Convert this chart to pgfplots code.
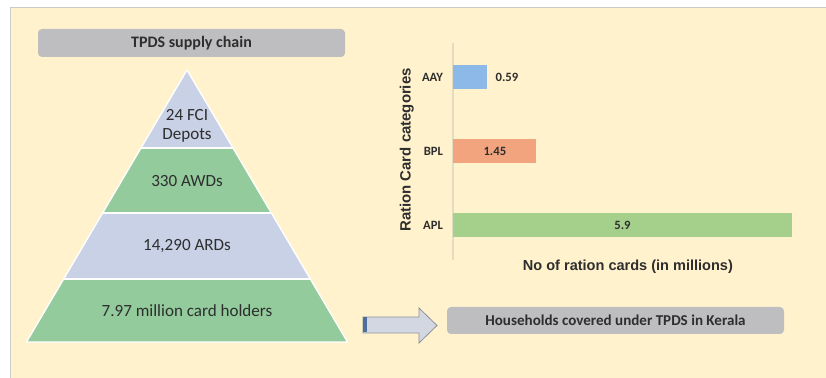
\documentclass[border=0pt]{standalone}
\usepackage{pgfplots}
\pgfplotsset{compat=1.18}
\usepackage{fontspec}
\setmainfont{Carlito}
\newfontfamily\arialf{Liberation Sans}
\definecolor{cream}{HTML}{FFF2CC}
\definecolor{framegray}{HTML}{C9CCC4}
\definecolor{boxgray}{HTML}{BEBEC0}
\definecolor{pyrblue}{HTML}{C9D1E6}
\definecolor{pyrgreen}{HTML}{93CB9C}
\definecolor{aay}{HTML}{8DB9E8}
\definecolor{bpl}{HTML}{F2A47E}
\definecolor{apl}{HTML}{A5D08C}
\definecolor{axisgray}{HTML}{E3DCC0}
\definecolor{darktext}{HTML}{2E2E2E}
\definecolor{arrowfill}{HTML}{D3D7E2}
\definecolor{arrowedge}{HTML}{8C919C}
\definecolor{arrowdark}{HTML}{4F6E9E}
\begin{document}
\begin{tikzpicture}
\begin{scope}[x=0.75pt,y=-0.75pt,shift={(0pt,283.5pt)}]
\fill[white] (0,0) rectangle (826,378);
\fill[cream] (10,7) rectangle (826,378);
\draw[framegray, line width=0.9pt] (10.5,378) -- (10.5,7.5) -- (826,7.5);
% title box
\fill[boxgray, rounded corners=3pt] (38,29) rectangle (345,57);
\node[font=\bfseries\fontsize{12}{14}\selectfont, text=darktext] at (191.5,43) {TPDS supply chain};
% pyramid
\fill[pyrblue] (187,70) -- (233,148) -- (141,148) -- cycle;
\fill[pyrgreen] (141,148) -- (233,148) -- (271.4,213) -- (102.6,213) -- cycle;
\fill[pyrblue] (102.6,213) -- (271.4,213) -- (310.3,279) -- (63.7,279) -- cycle;
\fill[pyrgreen] (63.7,279) -- (310.3,279) -- (347.5,342) -- (26.5,342) -- cycle;
\draw[white, line width=2pt] (141,148) -- (233,148);
\draw[white, line width=2pt] (102.6,213) -- (271.4,213);
\draw[white, line width=2pt] (63.7,279) -- (310.3,279);
\draw[white, line width=1pt, line join=round] (187,70) -- (347.5,342) -- (26.5,342) -- cycle;
\begin{scope}[font=\fontsize{12.8}{15}\selectfont, text=darktext]
\node[align=center] at (187,126) {24 FCI\\[-1pt]Depots};
\node at (187,181) {330 AWDs};
\node at (187,246) {14,290 ARDs};
\node at (187,311) {7.97 million card holders};
\end{scope}
% arrow
\fill[arrowfill, draw=arrowedge, line width=0.6pt, line join=miter]
  (363,317) -- (419,317) -- (419,308) -- (437,325.5) -- (419,343) -- (419,333) -- (363,333) -- cycle;
\fill[arrowdark] (363,317.5) rectangle (367,332.5);
% bottom box
\fill[boxgray, rounded corners=3pt] (447,307) rectangle (784,334);
\node[font=\bfseries\fontsize{11.3}{13}\selectfont, text=darktext] at (615.5,320.5) {Households covered under TPDS in Kerala};
\end{scope}
\begin{axis}[
  at={(339.75pt,88.5pt)}, anchor=south west,
  xbar, scale only axis,
  width=254.25pt, height=162.75pt,
  xmin=0, xmax=5.9, ymin=-0.473, ymax=2.459,
  bar width=18pt, bar shift=0pt,
  ytick={0,1,2}, yticklabels={APL,BPL,AAY}, xtick=\empty,
  major tick length=0pt,
  axis lines*=left,
  x axis line style={draw=none},
  y axis line style={draw=axisgray, line width=1pt},
  clip=false,
  yticklabel style={font=\bfseries\fontsize{9.5}{11}\selectfont, text=darktext, xshift=-4pt},
  point meta=explicit symbolic,
  xlabel={No of ration cards (in millions)},
  ylabel={Ration Card categories},
  xlabel style={font=\arialf\bfseries\fontsize{10.9}{12}\selectfont, text=darktext, at={(axis description cs:0.516,-0.03)}, anchor=center},
  ylabel style={font=\arialf\bfseries\fontsize{11.2}{12}\selectfont, text=darktext, at={(axis description cs:-0.136,0.507)}, anchor=center, rotate=0},
]
\addplot[fill=aay, draw=none, nodes near coords,
  nodes near coords style={font=\bfseries\fontsize{9.5}{11}\selectfont, text=darktext, anchor=west, xshift=3pt}]
  coordinates {(0.59,2) [0.59]};
\addplot[fill=bpl, draw=none, nodes near coords,
  nodes near coords style={font=\bfseries\fontsize{9.5}{11}\selectfont, text=darktext, anchor=center, xshift=-31.1pt}]
  coordinates {(1.45,1) [1.45]};
\addplot[fill=apl, draw=none, nodes near coords,
  nodes near coords style={font=\bfseries\fontsize{9.5}{11}\selectfont, text=darktext, anchor=center, xshift=-127.1pt}]
  coordinates {(5.9,0) [5.9]};
\end{axis}
\pgfresetboundingbox
\path[use as bounding box] (0pt,0pt) rectangle (619.5pt,283.5pt);
\end{tikzpicture}
\end{document}
